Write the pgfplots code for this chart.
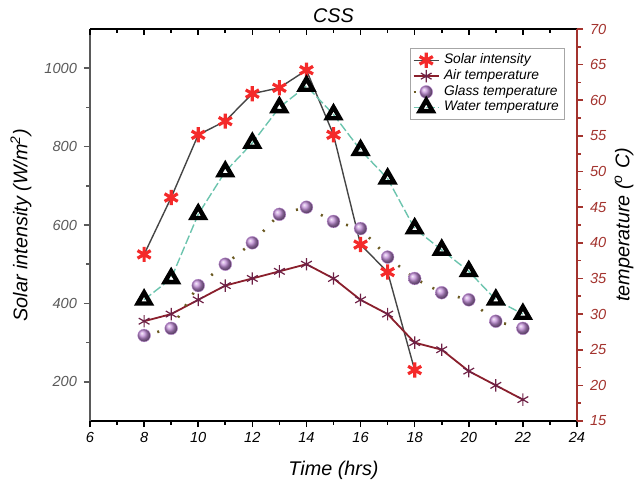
\documentclass[border=0pt]{standalone}
\usepackage{fontspec}
\setmainfont{Liberation Sans}
\usepackage{pgfplots}
\pgfplotsset{compat=1.18}

\definecolor{solarline}{HTML}{454545}
\definecolor{solarmark}{HTML}{F42A2A}
\definecolor{airline}{HTML}{8A1F2C}
\definecolor{airmark}{HTML}{6E2146}
\definecolor{glassline}{HTML}{6B5A22}
\definecolor{glassmark}{HTML}{C08CD6}
\definecolor{waterline}{HTML}{6CC4AE}
\definecolor{rightax}{HTML}{A3332E}
\definecolor{leftax}{HTML}{5A5A5A}

\begin{document}
\begin{tikzpicture}
\pgfplotsset{
  base/.style={
    width=243.5pt, height=196pt, scale only axis,
    xmin=6, xmax=24,
    /pgf/number format/assume math mode=true,
    /pgf/number format/set thousands separator={},
    tick label style={font=\fontsize{7.3}{8}\selectfont\itshape},
    label style={font=\fontsize{9.9}{11}\selectfont\itshape},
    major tick length=3pt, minor tick length=1.8pt,
    every tick/.style={thick},
  },
  solar/.style={solarline, line width=0.7pt, mark=asterisk, mark size=3.8pt,
    mark options={solarmark, line width=1.6pt, solid}},
}
% fixed picture frame, same proportions as the reference
\useasboundingbox (-45pt,-33pt) rectangle (273.5pt,210.5pt);
% left axis: solar intensity
\begin{axis}[base,
  axis x line*=bottom, axis y line*=left,
  tick align=outside,
  ymin=100, ymax=1100,
  ytick={200,400,...,1000}, minor y tick num=1,
  xtick={6,8,...,24}, minor x tick num=1,
  y axis line style={leftax, thick},
  x axis line style={thick},
  ytick style={leftax},
  yticklabel style={leftax},
  xticklabel style={yshift=1pt},
  xlabel={Time (hrs)},
  xlabel style={at={(axis description cs:0.5,-0.127)}, anchor=center},
  ylabel={Solar intensity (W/m\textsuperscript{2})},
  ylabel style={at={(axis description cs:-0.142,0.5)}, anchor=center},
  title={CSS},
  title style={font=\fontsize{9.9}{11}\selectfont\itshape,
    at={(axis description cs:0.5,1.033)}, anchor=center, yshift=-6pt},
]
\addplot[solar] coordinates {
  (8,525) (9,670) (10,830) (11,865) (12,935) (13,950) (14,995)
  (15,830) (16,550) (17,480) (18,230)};
\end{axis}
% top axis line with inner ticks
\begin{axis}[base,
  axis x line*=top, axis y line=none,
  tick align=inside,
  ymin=0, ymax=1,
  xtick={6,8,...,24}, minor x tick num=1, xticklabels={},
  x axis line style={thick},
]
\end{axis}
% right axis: temperatures
\begin{axis}[base,
  axis x line=none, axis y line*=right,
  tick align=outside,
  ymin=15, ymax=70,
  ytick={15,20,...,70}, minor y tick num=1,
  y axis line style={rightax, thick},
  ytick style={rightax},
  yticklabel style={rightax},
  ylabel={temperature (\textsuperscript{o} C)},
  ylabel style={at={(axis description cs:1.0965,0.5)}, anchor=center},
  legend style={at={(rel axis cs:0.975,0.952)}, anchor=north east,
    draw=gray!70, font=\fontsize{6.9}{8}\selectfont\itshape,
    inner sep=0.8pt, row sep=-2.6pt, cells={anchor=west}},
  legend cell align=left,
  legend image code/.code={
    \draw[mark repeat=2, mark phase=2]
      plot coordinates {(0cm,0cm) (0.22cm,0cm) (0.44cm,0cm)};},
]
\addlegendimage{solar}
\addlegendentry{Solar intensity}
\addplot[airline, line width=0.9pt, mark=asterisk, mark size=3.1pt,
  mark options={airmark, line width=0.6pt}] coordinates {
  (8,29) (9,30) (10,32) (11,34) (12,35) (13,36) (14,37) (15,35)
  (16,32) (17,30) (18,26) (19,25) (20,22) (21,20) (22,18)};
\addlegendentry{Air temperature}
\addplot[glassline, line width=1.3pt, dash pattern=on 1pt off 5.8pt,
  mark=ball, mark size=3.2pt,
  mark options={ball color=glassmark, draw=glassmark, line width=0.2pt, solid}] coordinates {
  (8,27) (9,28) (10,34) (11,37) (12,40) (13,44) (14,45) (15,43)
  (16,42) (17,38) (18,35) (19,33) (20,32) (21,29) (22,28)};
\addlegendentry{Glass temperature}
\addplot[waterline, line width=0.7pt, dash pattern=on 4.5pt off 1.5pt,
  mark=triangle, mark size=3.7pt, mark options={black, line width=2.2pt, solid}] coordinates {
  (8,32) (9,35) (10,44) (11,50) (12,54) (13,59) (14,62) (15,58)
  (16,53) (17,49) (18,42) (19,39) (20,36) (21,32) (22,30)};
\addlegendentry{Water temperature}
\end{axis}
\end{tikzpicture}
\end{document}
